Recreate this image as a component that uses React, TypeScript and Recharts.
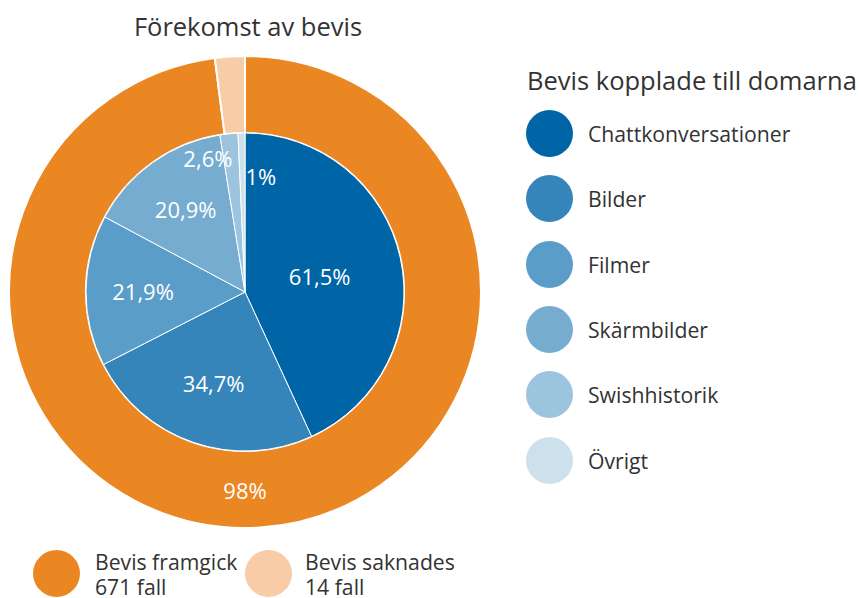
import React from 'react';
import { PieChart, Pie, Cell } from 'recharts';

const outerNames = ['Bevis framgick', 'Bevis saknades'];
const outerCases = [671, 14];
const outerLabels = ['98%', '2%'];
const outerColors = ['#EB8723', '#F7CCA6'];

const innerNames = ['Chattkonversationer', 'Bilder', 'Filmer', 'Skärmbilder', 'Swishhistorik', 'Övrigt'];
const innerValues = [61.5, 34.7, 21.9, 20.9, 2.6, 1];
const innerColors = ['#0065A6', '#3585BA', '#5A9DC9', '#75ACD0', '#9DC4DE', '#CDE1ED'];

const outerData = outerNames.map((name, i) => ({ name, value: outerCases[i], label: outerLabels[i] }));
const innerData = innerNames.map((name, i) => ({ name, value: innerValues[i] }));

const FONT = '"Open Sans", "Noto Sans", sans-serif';
const TEXT = '#333333';
const RAD = Math.PI / 180;

const fmt = (v: number) => String(v).replace('.', ',') + '%';

const renderOuterLabel = (p: any) => {
  if (p.index !== 0) return null;
  const r = (p.innerRadius + p.outerRadius) / 2;
  return (
    <text x={p.cx} y={p.cy + r} fill="#ffffff" textAnchor="middle" dominantBaseline="central"
      style={{ fontFamily: FONT, fontSize: 22 }}>
      {outerData[p.index].label}
    </text>
  );
};

const renderInnerLabel = (p: any) => {
  const R = p.outerRadius;
  const theta = Math.max(p.percent * 360 * RAD, 0.0001);
  let r = (4 * R * Math.sin(theta / 2)) / (3 * theta);
  let anchor: 'middle' | 'start' | 'end' = 'middle';
  let dx = 0;
  if (p.percent < 0.03) {
    const last = p.index === innerData.length - 1;
    r = last ? R * 0.73 : R * 0.845;
    anchor = last ? 'start' : 'end';
    dx = last ? 3 : 1;
  }
  const x = p.cx + r * Math.cos(-p.midAngle * RAD) + dx;
  const y = p.cy + r * Math.sin(-p.midAngle * RAD);
  return (
    <text x={x} y={y} fill="#ffffff" textAnchor={anchor} dominantBaseline="central"
      style={{ fontFamily: FONT, fontSize: 22 }}>
      {fmt(innerValues[p.index])}
    </text>
  );
};

const Dot = ({ color }: { color: string }) => (
  <div style={{ width: 47, height: 47, borderRadius: '50%', background: color, flex: '0 0 auto' }} />
);

export default function App() {
  return (
    <div style={{ position: 'absolute', left: 0, top: 0, width: 859, height: 598, background: '#fff', fontFamily: FONT, color: TEXT, overflow: 'hidden' }}>
      <div style={{ position: 'absolute', left: 48, width: 400, top: 9, textAlign: 'center', fontSize: 25.5, lineHeight: '34px' }}>
        Förekomst av bevis
      </div>
      <div style={{ position: 'absolute', left: 0, top: 0 }}>
        <PieChart width={500} height={540} margin={{ top: 0, right: 0, bottom: 0, left: 0 }}>
          <Pie data={outerData} dataKey="value" nameKey="name" cx={245} cy={292}
            innerRadius={159} outerRadius={236} startAngle={90} endAngle={-270}
            stroke="#ffffff" strokeWidth={2} label={renderOuterLabel} labelLine={false}
            isAnimationActive={false}>
            {outerData.map((d, i) => <Cell key={d.name} fill={outerColors[i]} />)}
          </Pie>
          <Pie data={innerData} dataKey="value" nameKey="name" cx={245} cy={292}
            innerRadius={0} outerRadius={159} startAngle={90} endAngle={-270}
            stroke="#ffffff" strokeWidth={1} label={renderInnerLabel} labelLine={false}
            isAnimationActive={false}>
            {innerData.map((d, i) => <Cell key={d.name} fill={innerColors[i]} />)}
          </Pie>
        </PieChart>
      </div>
      <div style={{ position: 'absolute', left: 527, top: 63, fontSize: 25.5, lineHeight: '34px', whiteSpace: 'nowrap' }}>
        Bevis kopplade till domarna
      </div>
      {innerNames.map((n, i) => (
        <div key={n} style={{ position: 'absolute', left: 526, top: 110 + i * 65.3, height: 47, display: 'flex', alignItems: 'center', whiteSpace: 'nowrap' }}>
          <Dot color={innerColors[i]} />
          <span style={{ marginLeft: 15, fontSize: 21.2 }}>{n}</span>
        </div>
      ))}
      {outerNames.map((n, i) => (
        <div key={n} style={{ position: 'absolute', left: i === 0 ? 33 : 245, top: 550, height: 47, display: 'flex', alignItems: 'center', whiteSpace: 'nowrap' }}>
          <Dot color={outerColors[i]} />
          <div style={{ marginLeft: i === 0 ? 15 : 13, fontSize: 21.2, lineHeight: '25px' }}>
            <div>{n}</div>
            <div>{outerCases[i]} fall</div>
          </div>
        </div>
      ))}
    </div>
  );
}
